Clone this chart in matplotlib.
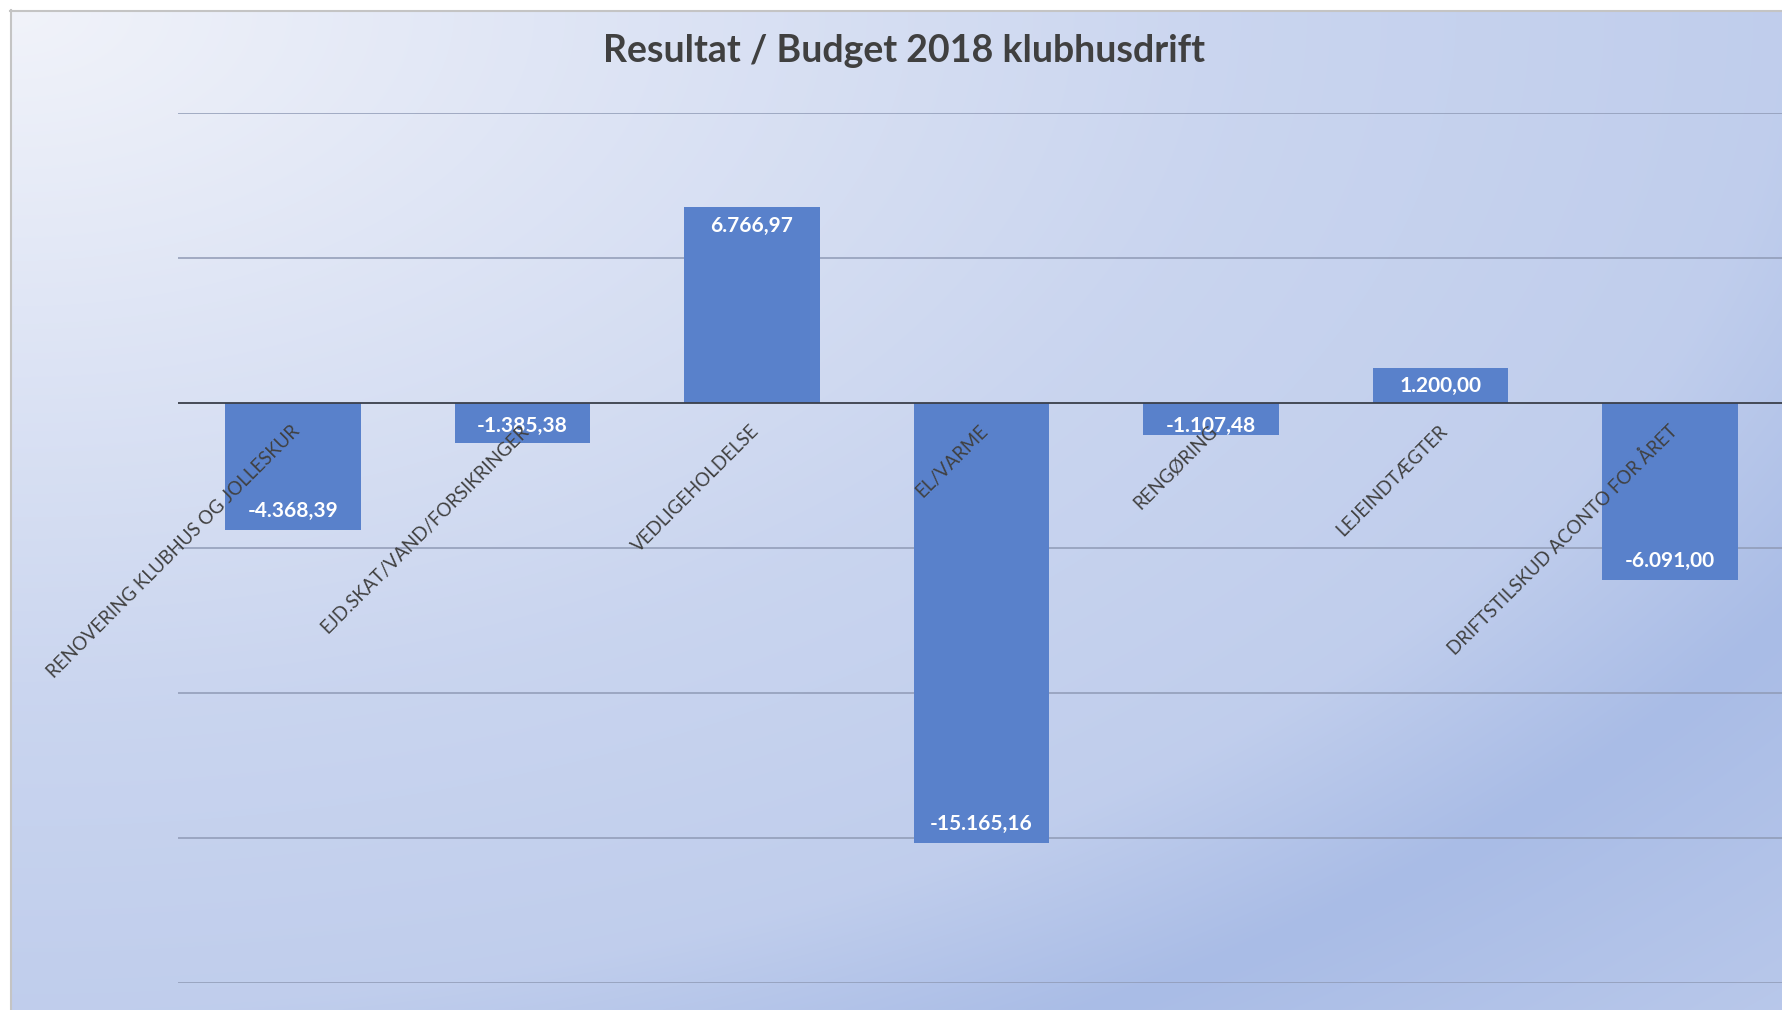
import numpy as np
import matplotlib
matplotlib.use("Agg")
import matplotlib.pyplot as plt
import matplotlib.transforms as mtransforms

# data
categories = [
    "RENOVERING KLUBHUS OG JOLLESKUR",
    "EJD.SKAT/VAND/FORSIKRINGER",
    "VEDLIGEHOLDELSE",
    "EL/VARME",
    "RENGØRING",
    "LEJEINDTÆGTER",
    "DRIFTSTILSKUD ACONTO FOR ÅRET",
]
values = [-4368.39, -1385.38, 6766.97, -15165.16, -1107.48, 1200.00, -6091.00]
grid_ticks = [-20000, -15000, -10000, -5000, 0, 5000, 10000]
title = "Resultat / Budget 2018 klubhusdrift"


def fmt_dk(v):
    s = f"{v:,.2f}"
    return s.replace(",", "X").replace(".", ",").replace("X", ".")


W, H = 1782, 1010
fig = plt.figure(figsize=(W / 100, H / 100), dpi=100)

# background gradient (light top-left, blue towards bottom-right)
bg = fig.add_axes([0, 0, 1, 1])
bg.set_xlim(0, W)
bg.set_ylim(H, 0)
bg.axis("off")
yy, xx = np.mgrid[0:H:2, 0:W:2]
d = np.sqrt((xx / W) ** 2 + (yy / H) ** 2)
f = np.interp(d, [0, 0.3, 0.7, 1.0, 1.17, 1.42], [0, 0.24, 0.55, 0.68, 1.0, 0.78])
light = np.array([0xF1, 0xF3, 0xFA]) / 255
dark = np.array([0xA9, 0xBC, 0xE6]) / 255
img = light[None, None, :] * (1 - f[..., None]) + dark[None, None, :] * f[..., None]
bg.imshow(img, extent=[10, W, H, 10], aspect="auto", interpolation="bilinear")
bg.plot([10.5, 10.5], [10, H], color="#C4C4C4", lw=1.5)
bg.plot([10, W], [10.5, 10.5], color="#C4C4C4", lw=1.5)

ax = fig.add_axes([178 / W, (H - 983) / H, (1785 - 178) / W, (983 - 113) / H])
ax.set_facecolor("none")
ax.set_xlim(-0.5, len(categories) - 0.5)
ax.set_ylim(-20000, 10000)
for t in grid_ticks:
    if t != 0:
        ax.axhline(t, color="#8F9AB5", lw=1.1, zorder=1)
for s in ax.spines.values():
    s.set_visible(False)
ax.set_xticks([])
ax.set_yticks([])

x = np.arange(len(categories))
ax.bar(x, values, width=0.59, color="#5981CB", zorder=2)
ax.axhline(0, color="#3A3F4A", lw=1.3, zorder=3)

# value labels (inside end)
for xi, v in zip(x, values):
    h_px = abs(v) / 30000 * 870
    if h_px > 50:
        tr = ax.transData + mtransforms.ScaledTranslation(
            0, (-19 if v > 0 else 19) / 100, fig.dpi_scale_trans)
        y = v
    else:
        tr = ax.transData + mtransforms.ScaledTranslation(
            0, (h_px / 2 if v > 0 else -23) / 100, fig.dpi_scale_trans)
        y = 0
    ax.text(xi, y, fmt_dk(v), transform=tr, ha="center", va="center",
            color="white", fontsize=15, fontweight="bold", family="Lato", zorder=5)

# category labels, rotated, anchored just under the zero line
for xi, lab in zip(x, categories):
    tr = ax.transData + mtransforms.ScaledTranslation(4 / 100, -25 / 100, fig.dpi_scale_trans)
    ax.text(xi, 0, lab, transform=tr, rotation=45, rotation_mode="anchor",
            ha="right", va="center", color="#404040", fontsize=13.4, family="Lato", zorder=6)

fig.text(904 / W, 1 - 51 / H, title, ha="center", va="center",
         fontsize=27, fontweight="bold", color="#404040", family="Lato")

fig.savefig("out.png", dpi=100)
